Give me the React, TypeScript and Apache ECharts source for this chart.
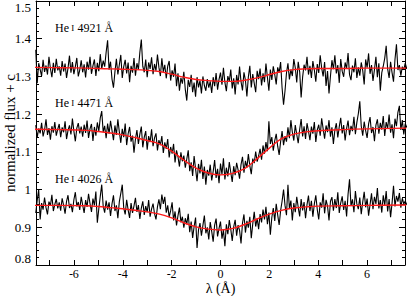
import React, { useEffect, useRef } from "react";
import * as echarts from "echarts";

// wavelength grid (Å relative to line centre)
const X0 = -7.56;
const STEP = 0.06;

// observed normalized flux + offset, He I 4921 Å
const flux4921 = [
  1.371, 1.282, 1.335, 1.318, 1.301, 1.344, 1.312, 1.329, 1.305, 1.352, 1.321, 1.298, 1.336, 1.309, 1.347, 1.316, 1.327,
  1.302, 1.341, 1.313, 1.334, 1.296, 1.322, 1.355, 1.31, 1.338, 1.306, 1.326, 1.349, 1.3, 1.317, 1.343, 1.311, 1.332,
  1.297, 1.339, 1.318, 1.352, 1.307, 1.328, 1.345, 1.301, 1.336, 1.314, 1.359, 1.32, 1.342, 1.326, 1.364, 1.396, 1.318,
  1.339, 1.293, 1.27, 1.312, 1.347, 1.305, 1.331, 1.357, 1.296, 1.326, 1.344, 1.308, 1.337, 1.285, 1.328, 1.31, 1.349,
  1.302, 1.335, 1.318, 1.364, 1.398, 1.327, 1.311, 1.345, 1.298, 1.337, 1.32, 1.351, 1.306, 1.333, 1.315, 1.358, 1.324,
  1.301, 1.348, 1.312, 1.331, 1.295, 1.327, 1.341, 1.289, 1.316, 1.299, 1.334, 1.274, 1.308, 1.262, 1.296, 1.281, 1.312,
  1.265, 1.236, 1.291, 1.272, 1.304, 1.258, 1.284, 1.246, 1.298, 1.271, 1.289, 1.255, 1.3, 1.276, 1.262, 1.293, 1.27,
  1.287, 1.256, 1.298, 1.274, 1.309, 1.265, 1.292, 1.31, 1.278, 1.323, 1.284, 1.261, 1.301, 1.287, 1.318, 1.268, 1.295,
  1.252, 1.304, 1.279, 1.326, 1.286, 1.263, 1.311, 1.29, 1.247, 1.299, 1.328, 1.271, 1.306, 1.282, 1.258, 1.315, 1.293,
  1.321, 1.276, 1.308, 1.285, 1.334, 1.297, 1.262, 1.318, 1.291, 1.327, 1.305, 1.279, 1.324, 1.31, 1.338, 1.27, 1.225,
  1.262, 1.309, 1.335, 1.292, 1.318, 1.301, 1.346, 1.323, 1.284, 1.339, 1.312, 1.244, 1.298, 1.331, 1.316, 1.352, 1.305,
  1.328, 1.296, 1.341, 1.317, 1.286, 1.333, 1.309, 1.356, 1.322, 1.3, 1.338, 1.275, 1.314, 1.255, 1.301, 1.343, 1.319,
  1.356, 1.308, 1.33, 1.283, 1.346, 1.314, 1.299, 1.337, 1.321, 1.362, 1.305, 1.29, 1.329, 1.311, 1.348, 1.296, 1.324,
  1.302, 1.337, 1.316, 1.279, 1.345, 1.323, 1.361, 1.307, 1.33, 1.288, 1.318, 1.352, 1.298, 1.335, 1.262, 1.31, 1.327,
  1.348, 1.381, 1.32, 1.296, 1.339, 1.31, 1.286, 1.345, 1.385, 1.317, 1.33, 1.302, 1.326, 1.318, 1.335, 1.32, 1.328,
];

// He I 4471 Å
const flux4471 = [
  1.171, 1.138, 1.162, 1.149, 1.177, 1.141, 1.158, 1.186, 1.145, 1.163, 1.132, 1.168, 1.151, 1.179, 1.143, 1.16, 1.174,
  1.139, 1.165, 1.152, 1.181, 1.134, 1.157, 1.17, 1.146, 1.188, 1.155, 1.128, 1.163, 1.176, 1.149, 1.167, 1.14, 1.172,
  1.15, 1.183, 1.137, 1.161, 1.174, 1.129, 1.166, 1.143, 1.178, 1.155, 1.19, 1.208, 1.152, 1.169, 1.136, 1.175, 1.148,
  1.182, 1.157, 1.131, 1.17, 1.145, 1.186, 1.153, 1.124, 1.161, 1.139, 1.175, 1.118, 1.148, 1.166, 1.127, 1.143, 1.098,
  1.134, 1.158, 1.121, 1.147, 1.167, 1.112, 1.139, 1.155, 1.106, 1.142, 1.126, 1.16, 1.115, 1.137, 1.149, 1.104, 1.131,
  1.118, 1.142, 1.097, 1.125, 1.108, 1.134, 1.085, 1.113, 1.095, 1.121, 1.072, 1.104, 1.087, 1.061, 1.099, 1.075, 1.09,
  1.058, 1.081, 1.104, 1.049, 1.072, 1.036, 1.089, 1.055, 1.022, 1.068, 1.043, 1.079, 1.028, 1.061, 1.013, 1.052, 1.037,
  1.066, 1.024, 1.048, 1.078, 1.031, 1.055, 1.017, 1.069, 1.04, 1.083, 1.027, 1.058, 1.035, 1.073, 1.046, 1.02, 1.062,
  1.038, 1.071, 1.052, 1.029, 1.066, 1.087, 1.045, 1.076, 1.058, 1.094, 1.063, 1.041, 1.082, 1.07, 1.101, 1.074, 1.089,
  1.108, 1.079, 1.117, 1.095, 1.126, 1.102, 1.181, 1.121, 1.139, 1.103, 1.13, 1.148, 1.115, 1.092, 1.127, 1.155, 1.118,
  1.142, 1.127, 1.165, 1.136, 1.184, 1.152, 1.13, 1.171, 1.146, 1.123, 1.16, 1.187, 1.141, 1.168, 1.134, 1.176, 1.155,
  1.131, 1.167, 1.148, 1.179, 1.126, 1.158, 1.172, 1.143, 1.189, 1.161, 1.135, 1.17, 1.152, 1.184, 1.14, 1.165, 1.121,
  1.158, 1.176, 1.138, 1.167, 1.19, 1.149, 1.171, 1.13, 1.162, 1.183, 1.144, 1.169, 1.155, 1.193, 1.147, 1.178, 1.201,
  1.234, 1.168, 1.143, 1.18, 1.156, 1.137, 1.174, 1.192, 1.15, 1.166, 1.128, 1.171, 1.186, 1.148, 1.177, 1.159, 1.195,
  1.142, 1.179, 1.162, 1.199, 1.151, 1.173, 1.136, 1.188, 1.168, 1.205, 1.222, 1.158, 1.184, 1.146, 1.175, 1.165, 1.17,
];

// He I 4026 Å
const flux4026 = [
  0.938, 0.972, 1.0, 0.921, 0.964, 0.947, 0.979, 0.952, 0.934, 0.968, 0.957, 0.986, 0.943, 0.961, 0.975, 0.95, 0.966,
  0.944, 0.977, 0.958, 0.936, 0.969, 0.985, 0.951, 0.962, 0.94, 0.973, 0.993, 0.955, 0.967, 0.946, 0.981, 0.959, 0.938,
  0.972, 0.954, 0.989, 0.963, 0.941, 0.976, 0.958, 0.995, 0.912, 0.949, 0.982, 1.013, 0.956, 0.939, 0.971, 0.947, 0.966,
  0.93, 0.962, 0.985, 0.943, 0.958, 0.924, 0.968, 0.99, 1.013, 0.951, 0.934, 0.973, 0.946, 0.925, 0.964, 0.938, 0.957,
  0.978, 0.941, 0.959, 0.922, 0.951, 0.969, 0.933, 0.956, 0.94, 0.972, 0.928, 0.949, 0.963, 0.936, 0.921, 0.954, 0.974,
  0.948, 0.987, 0.962, 0.981, 0.939, 0.958, 0.927, 0.944, 0.966, 0.918, 0.942, 0.905, 0.931, 0.952, 0.913, 0.928, 0.899,
  0.924, 0.908, 0.936, 0.887, 0.915, 0.872, 0.902, 0.926, 0.845, 0.893, 0.911, 0.878, 0.905, 0.931, 0.884, 0.9, 0.868,
  0.914, 0.889, 0.862, 0.906, 0.923, 0.876, 0.897, 0.915, 0.87, 0.893, 0.85, 0.908, 0.882, 0.919, 0.895, 0.864, 0.901,
  0.92, 0.878, 0.906, 0.892, 0.857, 0.911, 0.934, 0.886, 0.917, 0.899, 0.928, 0.871, 0.909, 0.941, 0.902, 0.924, 0.895,
  0.935, 0.913, 0.947, 0.921, 0.954, 0.908, 0.939, 0.88, 0.926, 0.951, 0.917, 0.962, 0.933, 0.906, 0.944, 0.969, 1.0,
  0.958, 0.932, 1.013, 0.949, 0.971, 0.918, 0.964, 0.94, 0.981, 0.953, 0.929, 0.975, 0.945, 0.967, 0.924, 0.96, 0.984,
  0.943, 0.97, 0.928, 0.962, 0.985, 0.947, 0.921, 0.966, 0.952, 0.99, 0.937, 0.973, 0.956, 0.918, 0.969, 0.98, 0.944,
  0.975, 0.951, 0.993, 0.938, 0.965, 0.982, 0.946, 0.97, 0.929, 0.988, 1.027, 0.957, 0.974, 0.94, 0.996, 0.962, 0.948,
  0.979, 0.935, 0.967, 0.994, 0.953, 0.976, 0.931, 0.96, 0.99, 0.948, 0.981, 0.962, 1.004, 0.95, 0.972, 0.939, 0.985,
  0.958, 0.996, 0.942, 0.975, 0.927, 0.964, 1.01, 0.955, 0.983, 0.968, 0.991, 0.952, 0.977, 0.962, 0.97, 0.96, 0.965,
];

// model fits (red)
const modelX = [-7.6, -6.5, -5.5, -5, -4.5, -4, -3.5, -3, -2.5, -2, -1.5, -1, -0.5, 0, 0.5, 1, 1.5, 2, 2.5, 3, 3.5, 4, 5, 6, 7.6];
const model4921 = [1.324, 1.323, 1.322, 1.321, 1.32, 1.319, 1.318, 1.316, 1.313, 1.306, 1.298, 1.292, 1.289, 1.287, 1.287, 1.29, 1.296, 1.305, 1.313, 1.318, 1.32, 1.321, 1.321, 1.322, 1.322];
const model4471 = [1.16, 1.159, 1.157, 1.154, 1.15, 1.145, 1.138, 1.13, 1.121, 1.102, 1.078, 1.057, 1.044, 1.039, 1.043, 1.056, 1.082, 1.11, 1.135, 1.147, 1.153, 1.156, 1.159, 1.161, 1.163];
const model4026 = [0.958, 0.958, 0.957, 0.955, 0.952, 0.949, 0.945, 0.941, 0.935, 0.925, 0.912, 0.901, 0.895, 0.893, 0.897, 0.908, 0.922, 0.935, 0.945, 0.951, 0.954, 0.956, 0.957, 0.958, 0.959];

const lineLabels = ["4921 Å", "4471 Å", "4026 Å"];
const xLabelTicks = [-6, -4, -2, 0, 2, 4, 6];
const xMinorTicks = [-7, -6, -5, -4, -3, -2, -1, 0, 1, 2, 3, 4, 5, 6, 7];

const FONT = "Liberation Serif";

export default function App() {
  const ref = useRef<HTMLDivElement>(null);
  useEffect(() => {
    document.body.style.margin = "0";
    if (!ref.current) return;
    const chart = echarts.init(ref.current, null, { renderer: "svg" });
    const pts = (f: number[]) => f.map((v, i) => [+(X0 + STEP * i).toFixed(2), v]);
    const mpts = (f: number[]) => f.map((v, i) => [modelX[i], v]);
    const obsSeries = [flux4921, flux4471, flux4026].map((f) => ({
      type: "line",
      data: pts(f),
      showSymbol: false,
      symbol: "none",
      lineStyle: { color: "#000", width: 1.1 },
      z: 2,
      clip: true,
    }));
    const modSeries = [model4921, model4471, model4026].map((f) => ({
      type: "line",
      data: mpts(f),
      smooth: 0.4,
      showSymbol: false,
      symbol: "none",
      lineStyle: { color: "#ff1a1a", width: 1.4 },
      z: 3,
      clip: true,
    }));
    const labelTops = [22, 97, 173];
    const axisLine = { show: true, onZero: false, lineStyle: { color: "#000", width: 1 } };
    chart.setOption({
      animation: false,
      textStyle: { fontFamily: FONT },
      grid: { left: 36, right: 2, top: 1, bottom: 31, containLabel: false, outerBoundsMode: "none" },
      xAxis: [
        {
          type: "value",
          min: -7.55,
          max: 7.55,
          position: "bottom",
          axisLine,
          splitLine: { show: false },
          axisTick: { inside: true, length: 5, customValues: xMinorTicks, lineStyle: { color: "#000" } },
          axisLabel: { customValues: xLabelTicks, color: "#000", fontFamily: FONT, fontSize: 12, margin: 3 },
          name: "λ (Å)",
          nameLocation: "middle",
          nameGap: 16,
          nameMoveOverlap: false,
          nameTextStyle: { color: "#000", fontFamily: FONT, fontSize: 14 },
        },
        {
          type: "value",
          min: -7.55,
          max: 7.55,
          position: "top",
          axisLine,
          splitLine: { show: false },
          axisTick: { inside: true, length: 5, customValues: xMinorTicks, lineStyle: { color: "#000" } },
          axisLabel: { show: false },
        },
      ],
      yAxis: [
        {
          type: "value",
          min: 0.8,
          max: 1.5,
          interval: 0.1,
          position: "left",
          axisLine,
          splitLine: { show: false },
          axisTick: { inside: true, length: 6, lineStyle: { color: "#000" } },
          minorTick: { show: true, splitNumber: 5, length: 3, lineStyle: { color: "#000" } },
          axisLabel: {
            color: "#000",
            fontFamily: FONT,
            fontSize: 13,
            margin: 5,
            formatter: (v: number) => String(+v.toFixed(1)),
            verticalAlignMaxLabel: "top",
            verticalAlignMinLabel: "bottom",
          },
          name: "normalized flux + c",
          nameLocation: "middle",
          nameGap: 19,
          nameMoveOverlap: false,
          nameTextStyle: { color: "#000", fontFamily: FONT, fontSize: 15 },
        },
        {
          type: "value",
          min: 0.8,
          max: 1.5,
          interval: 0.1,
          position: "right",
          axisLine,
          splitLine: { show: false },
          axisTick: { inside: true, length: 6, lineStyle: { color: "#000" } },
          minorTick: { show: true, splitNumber: 5, length: 3, lineStyle: { color: "#000" } },
          axisLabel: { show: false },
        },
      ],
      graphic: lineLabels.map((t, i) => ({
        type: "text",
        left: 55,
        top: labelTops[i],
        style: {
          text: `{a|He}{b| I} {a|${t}}`,
          rich: {
            a: { fontFamily: FONT, fontSize: 12, fill: "#000" },
            b: { fontFamily: FONT, fontSize: 9, fill: "#000" },
          },
        },
        z: 10,
      })),
      series: [...obsSeries, ...modSeries],
    });
    return () => chart.dispose();
  }, []);
  return <div ref={ref} style={{ width: 407, height: 296 }} />;
}
